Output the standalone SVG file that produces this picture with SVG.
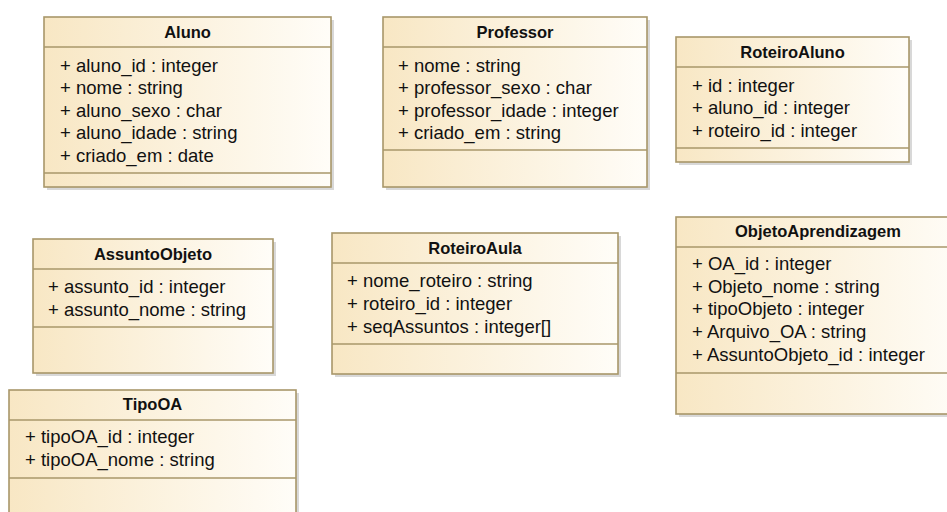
<svg xmlns="http://www.w3.org/2000/svg" width="947" height="512" viewBox="0 0 947 512">
<defs>
<linearGradient id="fill" x1="0" y1="0" x2="1" y2="0">
<stop offset="0" stop-color="#F8E7C4"/>
<stop offset="1" stop-color="#FFFDF8"/>
</linearGradient>
</defs>
<style>
.box{fill:url(#fill);stroke:#A8976A;stroke-width:1.6}
.shadow{fill:#D8D8D8}
.sep{stroke:#A8976A;stroke-width:1.6}
.title{font-family:"Liberation Sans",Arial,sans-serif;font-size:16.5px;font-weight:bold;fill:#111;text-anchor:middle}
.attr{font-family:"Liberation Sans",Arial,sans-serif;font-size:18.5px;fill:#111}
</style>
<rect width="947" height="512" fill="#FFFFFF"/>
<g id="connectors"></g>

<g id="Aluno">
<rect class="shadow" x="47" y="20" width="287" height="170"/>
<rect class="box" x="44" y="17" width="287" height="170"/>
<line class="sep" x1="44" y1="47" x2="331" y2="47"/>
<line class="sep" x1="44" y1="173" x2="331" y2="173"/>
<text class="title" x="187.5" y="38">Aluno</text>
<text class="attr" x="60" y="71.5">+ aluno_id : integer</text>
<text class="attr" x="60" y="94">+ nome : string</text>
<text class="attr" x="60" y="116.5">+ aluno_sexo : char</text>
<text class="attr" x="60" y="139">+ aluno_idade : string</text>
<text class="attr" x="60" y="161.5">+ criado_em : date</text>
</g>

<g id="Professor">
<rect class="shadow" x="386" y="20" width="264" height="170"/>
<rect class="box" x="383" y="17" width="264" height="170"/>
<line class="sep" x1="383" y1="47" x2="647" y2="47"/>
<line class="sep" x1="383" y1="150" x2="647" y2="150"/>
<text class="title" x="515" y="38">Professor</text>
<text class="attr" x="398" y="71.5">+ nome : string</text>
<text class="attr" x="398" y="94">+ professor_sexo : char</text>
<text class="attr" x="398" y="116.5">+ professor_idade : integer</text>
<text class="attr" x="398" y="139">+ criado_em : string</text>
</g>

<g id="RoteiroAluno">
<rect class="shadow" x="679" y="40" width="233" height="125"/>
<rect class="box" x="676" y="37" width="233" height="125"/>
<line class="sep" x1="676" y1="67" x2="909" y2="67"/>
<line class="sep" x1="676" y1="148" x2="909" y2="148"/>
<text class="title" x="792.5" y="58">RoteiroAluno</text>
<text class="attr" x="692" y="91.5">+ id : integer</text>
<text class="attr" x="692" y="114">+ aluno_id : integer</text>
<text class="attr" x="692" y="136.5">+ roteiro_id : integer</text>
</g>

<g id="AssuntoObjeto">
<rect class="shadow" x="36" y="242" width="240" height="134"/>
<rect class="box" x="33" y="239" width="240" height="134"/>
<line class="sep" x1="33" y1="269" x2="273" y2="269"/>
<line class="sep" x1="33" y1="327" x2="273" y2="327"/>
<text class="title" x="153" y="260">AssuntoObjeto</text>
<text class="attr" x="48" y="293">+ assunto_id : integer</text>
<text class="attr" x="48" y="316">+ assunto_nome : string</text>
</g>

<g id="TipoOA">
<rect class="shadow" x="12" y="393" width="287" height="140"/>
<rect class="box" x="9" y="390" width="287" height="140"/>
<line class="sep" x1="9" y1="420" x2="296" y2="420"/>
<line class="sep" x1="9" y1="478" x2="296" y2="478"/>
<text class="title" x="152.5" y="410">TipoOA</text>
<text class="attr" x="25" y="443">+ tipoOA_id : integer</text>
<text class="attr" x="25" y="466">+ tipoOA_nome : string</text>
</g>

<g id="RoteiroAula">
<rect class="shadow" x="335" y="236" width="286" height="141"/>
<rect class="box" x="332" y="233" width="286" height="141"/>
<line class="sep" x1="332" y1="263" x2="618" y2="263"/>
<line class="sep" x1="332" y1="344" x2="618" y2="344"/>
<text class="title" x="475" y="254">RoteiroAula</text>
<text class="attr" x="347" y="287">+ nome_roteiro : string</text>
<text class="attr" x="347" y="310">+ roteiro_id : integer</text>
<text class="attr" x="347" y="332.5">+ seqAssuntos : integer[]</text>
</g>

<g id="ObjetoAprendizagem">
<rect class="shadow" x="679" y="220" width="290" height="197"/>
<rect class="box" x="676" y="217" width="290" height="197"/>
<line class="sep" x1="676" y1="247" x2="966" y2="247"/>
<line class="sep" x1="676" y1="373" x2="966" y2="373"/>
<text class="title" x="818" y="237">ObjetoAprendizagem</text>
<text class="attr" x="692" y="270">+ OA_id : integer</text>
<text class="attr" x="692" y="292.5">+ Objeto_nome : string</text>
<text class="attr" x="692" y="315">+ tipoObjeto : integer</text>
<text class="attr" x="692" y="338">+ Arquivo_OA : string</text>
<text class="attr" x="692" y="360.5">+ AssuntoObjeto_id : integer</text>
</g>
</svg>
